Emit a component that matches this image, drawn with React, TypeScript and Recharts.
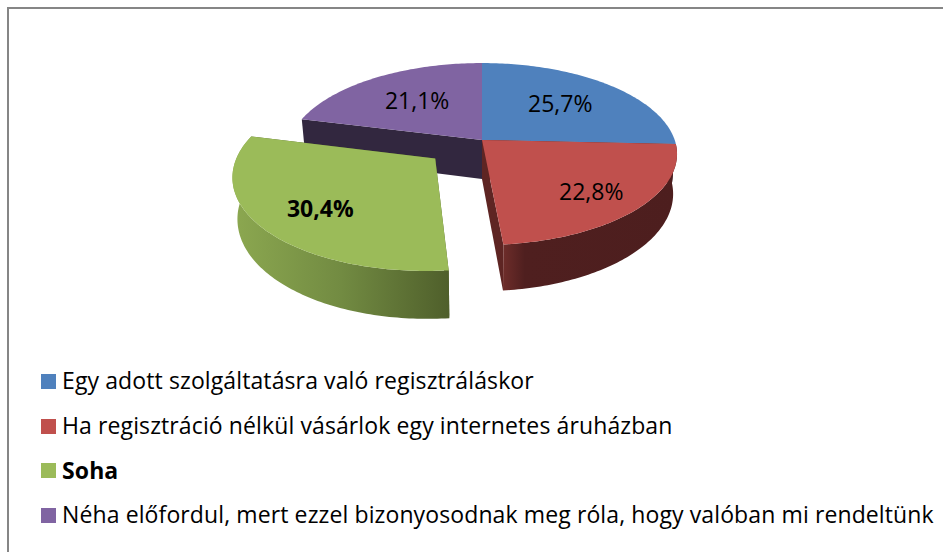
import React from "react";
import { PieChart, Pie, Legend } from "recharts";

const categories = [
  "Egy adott szolgáltatásra való regisztráláskor",
  "Ha regisztráció nélkül vásárlok egy internetes áruházban",
  "Soha",
  "Néha előfordul, mert ezzel bizonyosodnak meg róla, hogy valóban mi rendeltünk",
];
const values = [25.7, 22.8, 30.4, 21.1];
const colors = ["#4f81bd", "#c0504d", "#9bbb59", "#8064a2"];
const wallColors = ["#32405a", "#5e2523", "#4f5f2b", "#32273f"];
const sideStops: string[][] = [
  ["#2f4d71", "#2f4d71"],
  ["#6e2d2a", "#4f1f1f", "#4d1e1e"],
  ["#8ca850", "#728b42", "#4f5f2b"],
  ["#4c3c61", "#4c3c61"],
];
const exploded = "Soha";
const pieData = categories.map((name, i) => ({ name, value: values[i], fill: colors[i] }));

const FONT = "'Open Sans', sans-serif";
const RX = 192.7;
const RY = 88.8;
const P = 0.154;
const DEPTH = 39;
const EXPLODE = 0.31;

type Pt = [number, number];
const proj = (cx: number, cy: number, u: number, v: number, z: number): Pt => {
  const d = 1 + P * v;
  return [cx + (RX * u * (1 - 0.02 * z)) / d, cy + (-RY * v + DEPTH * z) / d];
};
const rad = (a: number) => ((90 - a) * Math.PI) / 180; // recharts angle -> clockwise from top
const toPath = (pts: Pt[]) =>
  pts.map((p, i) => `${i ? "L" : "M"}${p[0].toFixed(2)} ${p[1].toFixed(2)}`).join(" ") + " Z";

const arc = (
  cx: number, cy: number, ou: number, ov: number,
  from: number, to: number, z: number
): Pt[] => {
  const n = Math.max(2, Math.ceil(Math.abs(to - from)));
  const pts: Pt[] = [];
  for (let i = 0; i <= n; i++) {
    const t = rad(from + ((to - from) * i) / n);
    pts.push(proj(cx, cy, ou + Math.sin(t), ov + Math.cos(t), z));
  }
  return pts;
};

const offsetOf = (name: string, startAngle: number, endAngle: number): Pt => {
  if (name !== exploded) return [0, 0];
  const t = rad((startAngle + endAngle) / 2);
  return [EXPLODE * Math.sin(t), EXPLODE * Math.cos(t)];
};

const makeSlice = (showExploded: boolean) => (props: any) => {
  const { cx, cy, startAngle, endAngle, name, fill } = props;
  const i = categories.indexOf(name);
  if ((name === exploded) !== showExploded) return <g />;
  const [ou, ov] = offsetOf(name, startAngle, endAngle);

  const wall = (a: number) => {
    const t = rad(a);
    const ex = ou + Math.sin(t);
    const ey = ov + Math.cos(t);
    return toPath([
      proj(cx, cy, ou, ov, 0),
      proj(cx, cy, ex, ey, 0),
      proj(cx, cy, ex, ey, 1),
      proj(cx, cy, ou, ov, 1),
    ]);
  };

  // Only the part of the rim that faces the viewer has a side.
  const sFrom = Math.min(startAngle, 0);
  const sTo = Math.max(endAngle, -200);
  const hasSide = sFrom - sTo > 10;
  const gradId = `side-${i}`;
  const stops = sideStops[i];
  const top = arc(cx, cy, ou, ov, startAngle, endAngle, 0);
  const apex = proj(cx, cy, ou, ov, 0);
  // green shades from left (light) to right (dark); red from its cut edge outward
  const reverse = name === exploded;

  return (
    <g>
      <defs>
        <linearGradient id={gradId} x1="0" y1="0" x2="1" y2="0">
          {stops.map((c, k) => (
            <stop key={k} offset={`${(k / (stops.length - 1)) * (reverse ? 100 : 25 + (k === 2 ? 75 : 0))}%`} stopColor={c} />
          ))}
        </linearGradient>
      </defs>
      <path d={wall(startAngle)} fill={wallColors[i]} />
      <path d={wall(endAngle)} fill={wallColors[i]} />
      {hasSide && (
        <path
          d={toPath([
            ...arc(cx, cy, ou, ov, sFrom, sTo, 0),
            ...arc(cx, cy, ou, ov, sTo, sFrom, 1),
          ])}
          fill={`url(#${gradId})`}
        />
      )}
      <path d={toPath([apex, ...top])} fill={fill} />
    </g>
  );
};

const labelRadius = 0.63;
const labelNudge: Pt[] = [[-4, -0.5], [15, 10], [-10, 8], [4.5, 1]];
const renderLabel = (props: any) => {
  const { cx, cy, midAngle, name, value } = props;
  const i = categories.indexOf(name);
  const a = midAngle as number;
  const t = rad(a);
  const [ou, ov] = offsetOf(name, a + 1, a - 1);
  const [x, y] = proj(cx, cy, ou + labelRadius * Math.sin(t), ov + labelRadius * Math.cos(t), 0);
  return (
    <text
      x={x + labelNudge[i][0]}
      y={y + labelNudge[i][1]}
      textAnchor="middle"
      dominantBaseline="central"
      fontFamily={FONT}
      fontSize={23}
      fontWeight={name === exploded ? 700 : 400}
      fill="#000"
    >
      {`${String(value).replace(".", ",")}%`}
    </text>
  );
};

const renderLegend = (props: any) => {
  const seen = new Set<string>();
  const items = (props.payload || []).filter((e: any) => {
    if (seen.has(e.value)) return false;
    seen.add(e.value);
    return true;
  });
  return (
    <div style={{ position: "absolute", left: 41, top: 359, width: 900 }}>
      {items.map((e: any) => (
        <div key={e.value} style={{ height: 44.7, display: "flex", alignItems: "center", whiteSpace: "nowrap" }}>
          <span style={{ width: 15, height: 15, background: e.color, marginRight: 6, flex: "none" }} />
          <span
            style={{
              fontFamily: FONT,
              fontSize: 23,
              letterSpacing: 0.11,
              position: "relative",
              top: -1,
              color: "#000",
              fontWeight: e.value === exploded ? 700 : 400,
            }}
          >
            {e.value}
          </span>
        </div>
      ))}
    </div>
  );
};

export default function App() {
  return (
    <div style={{ position: "absolute", left: 0, top: 0, width: 943, height: 552, background: "#fff", overflow: "hidden" }}>
      <div
        style={{
          position: "absolute",
          left: 7,
          top: 7,
          width: 960,
          height: 570,
          borderLeft: "2px solid #868686",
          borderTop: "2px solid #868686",
        }}
      />
      <PieChart width={943} height={552} margin={{ top: 0, right: 0, bottom: 0, left: 0 }} style={{ position: "absolute", left: 0, top: 0 }}>
        <Pie
          data={pieData}
          dataKey="value"
          nameKey="name"
          cx={482}
          cy={140}
          outerRadius={100}
          startAngle={90}
          endAngle={-270}
          stroke="none"
          isAnimationActive={false}
          shape={makeSlice(false)}
        />
        <Pie
          data={pieData}
          dataKey="value"
          nameKey="name"
          cx={482}
          cy={140}
          outerRadius={100}
          startAngle={90}
          endAngle={-270}
          stroke="none"
          isAnimationActive={false}
          shape={makeSlice(true)}
          label={renderLabel}
          labelLine={false}
        />
        <Legend
          content={renderLegend}
          itemSorter={null}
          layout="vertical"
          align="left"
          verticalAlign="top"
          wrapperStyle={{ position: "absolute", left: 0, top: 0, width: 0, height: 0 }}
        />
      </PieChart>
    </div>
  );
}
